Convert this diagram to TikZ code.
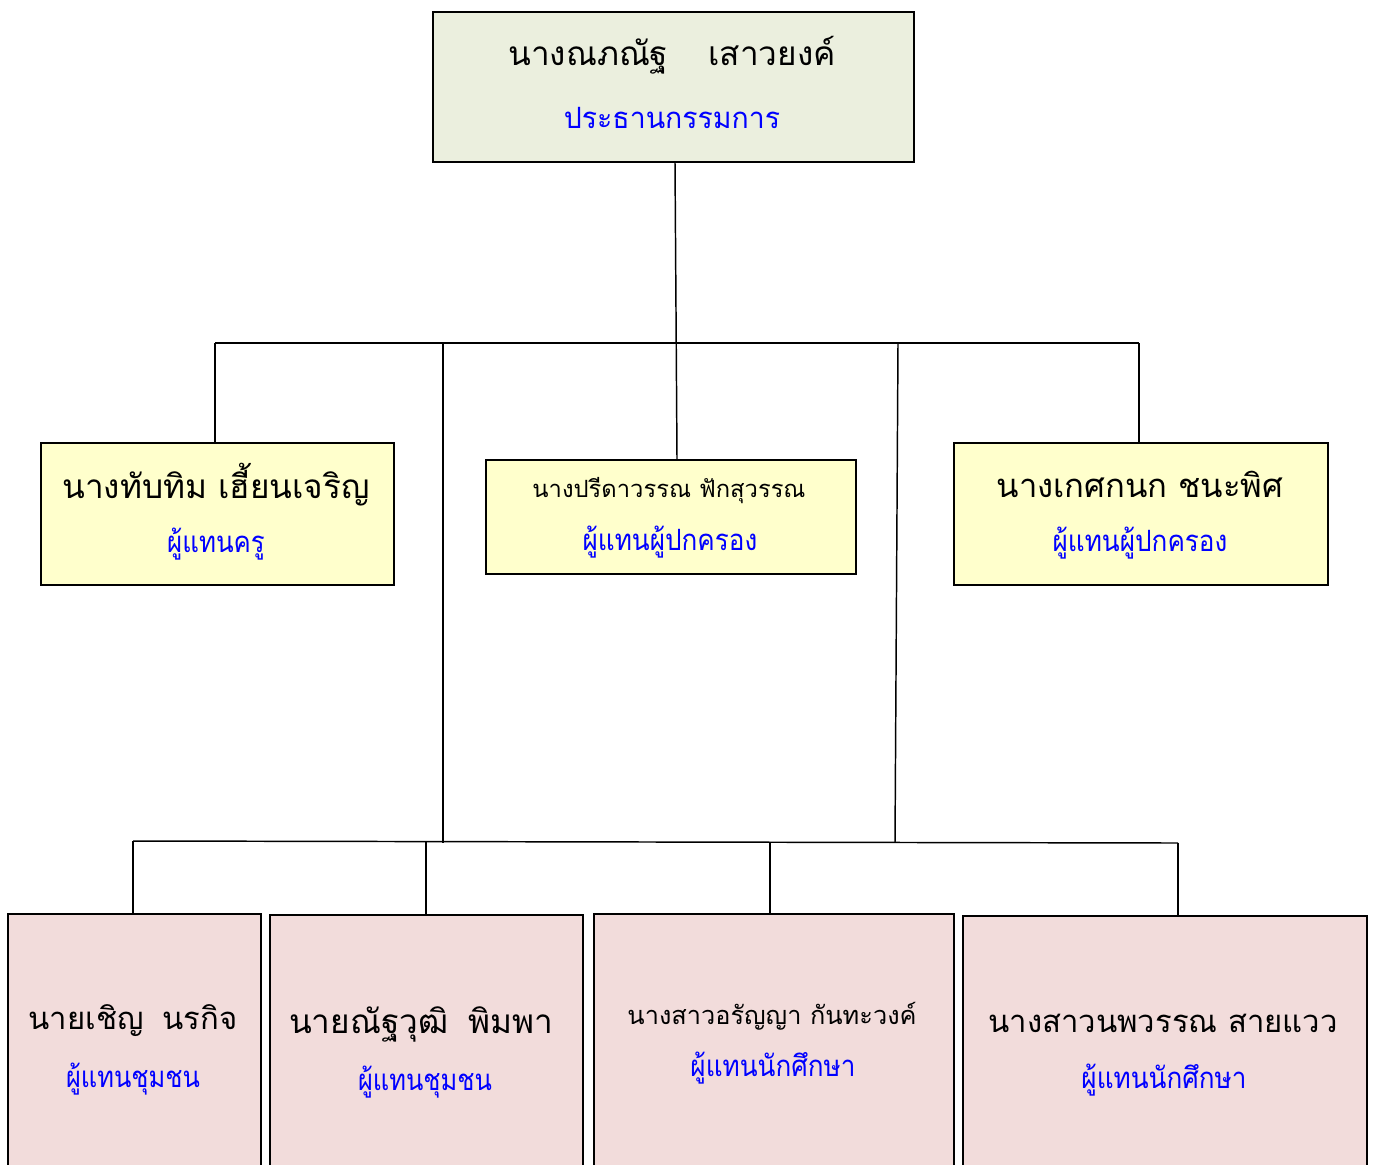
\documentclass[tikz,border=0pt]{standalone}
\usepackage{graphicx}
\usepackage{fontspec}
\newfontfamily\thai[Script=Thai]{Loma}
\definecolor{topfill}{HTML}{EBEFDE}
\definecolor{yelfill}{HTML}{FFFFCC}
\definecolor{pinkfill}{HTML}{F2DCDB}
\definecolor{roleblue}{HTML}{0000FF}
\newcommand{\hsq}[2]{\scalebox{#1}[1]{#2}}
\tikzset{
  box/.style={draw=black, line width=1.5pt, rectangle, inner sep=0pt, anchor=north west},
  nm/.style={font=\thai\fontsize{#1}{#1}\selectfont, inner sep=0pt},
  rolet/.style={font=\thai\fontsize{22}{24}\selectfont, text=roleblue, inner sep=0pt},
  conn/.style={line width=1.1pt, draw=black}
}
\begin{document}
\begin{tikzpicture}[x=0.75pt,y=-0.75pt]
\useasboundingbox (0,0) rectangle (1373,1164);
\begin{scope}
\clip (0,0) rectangle (1373,1164);
% boxes
\node[box, fill=topfill, minimum width=481*0.75pt, minimum height=150*0.75pt] (top) at (432,11) {};
\node[box, fill=yelfill, minimum width=353*0.75pt, minimum height=142*0.75pt] (m1) at (40,442) {};
\node[box, fill=yelfill, minimum width=370*0.75pt, minimum height=114*0.75pt] (m2) at (485,459) {};
\node[box, fill=yelfill, minimum width=374*0.75pt, minimum height=142*0.75pt] (m3) at (953,442) {};
\node[box, fill=pinkfill, minimum width=253*0.75pt, minimum height=270*0.75pt] (b1) at (7,913) {};
\node[box, fill=pinkfill, minimum width=313*0.75pt, minimum height=270*0.75pt] (b2) at (269,914) {};
\node[box, fill=pinkfill, minimum width=360*0.75pt, minimum height=270*0.75pt] (b3) at (593,913) {};
\node[box, fill=pinkfill, minimum width=404*0.75pt, minimum height=270*0.75pt] (b4) at (962,915) {};
% texts
\node[nm=25] (topn) at (672,55) {นางณภณัฐ\hspace{1.2em}เสาวยงค์};
\node[rolet] (topr) at (672,118) {\hsq{0.97}{ประธานกรรมการ}};
\node[nm=25] (m1n) at (216,485) {นางทับทิม เฮี้ยนเจริญ};
\node[rolet] (m1r) at (216,544) {\hsq{0.88}{ผู้แทนครู}};
\node[nm=17.8] (m2n) at (669,491) {นางปรีดาวรรณ ฟักสุวรรณ};
\node[rolet] (m2r) at (670,542) {\hsq{0.89}{ผู้แทนผู้ปกครอง}};
\node[nm=24.6] (m3n) at (1140,484) {นางเกศกนก ชนะพิศ};
\node[rolet] (m3r) at (1140,543) {\hsq{0.89}{ผู้แทนผู้ปกครอง}};
\node[nm=23.3] (b1n) at (133,1021) {นายเชิญ\hspace{0.6em}นรกิจ};
\node[rolet] (b1r) at (133,1079) {\hsq{0.865}{ผู้แทนชุมชน}};
\node[nm=25] (b2n) at (421,1024) {นายณัฐวุฒิ\hspace{0.6em}พิมพา};
\node[rolet] (b2r) at (425,1082) {\hsq{0.865}{ผู้แทนชุมชน}};
\node[nm=19] (b3n) at (772,1016) {นางสาวอรัญญา กันทะวงค์};
\node[rolet] (b3r) at (773,1068) {\hsq{0.89}{ผู้แทนนักศึกษา}};
\node[nm=23.3] (b4n) at (1163,1023) {นางสาวนพวรรณ สายแวว};
\node[rolet] (b4r) at (1164,1080) {\hsq{0.89}{ผู้แทนนักศึกษา}};
% junction coordinates
\coordinate (hL) at (215,343);
\coordinate (hR) at (1139,343);
\coordinate (v1t) at (443,343);
\coordinate (v1b) at (443,843);
\coordinate (v2t) at (898,343);
\coordinate (v2b) at (895,842);
\coordinate (lL) at (133,841);
\coordinate (lR) at (1178,843);
% connectors
\draw[conn] (top.south -| 675,0) -- (m2.north -| 677,0);
\draw[conn] (hL) -- (hR);
\draw[conn] (hL) -- (m1.north -| hL);
\draw[conn] (hR) -- (m3.north -| hR);
\draw[conn] (v1t) -- (v1b);
\draw[conn] (v2t) -- (v2b);
\draw[conn] (lL) -- (lR);
\draw[conn] (lL) -- (b1.north -| lL);
\draw[conn] (426,842) -- (b2.north -| 426,0);
\draw[conn] (770,843) -- (b3.north -| 770,0);
\draw[conn] (lR) -- (b4.north -| lR);
\end{scope}
\end{tikzpicture}
\end{document}
